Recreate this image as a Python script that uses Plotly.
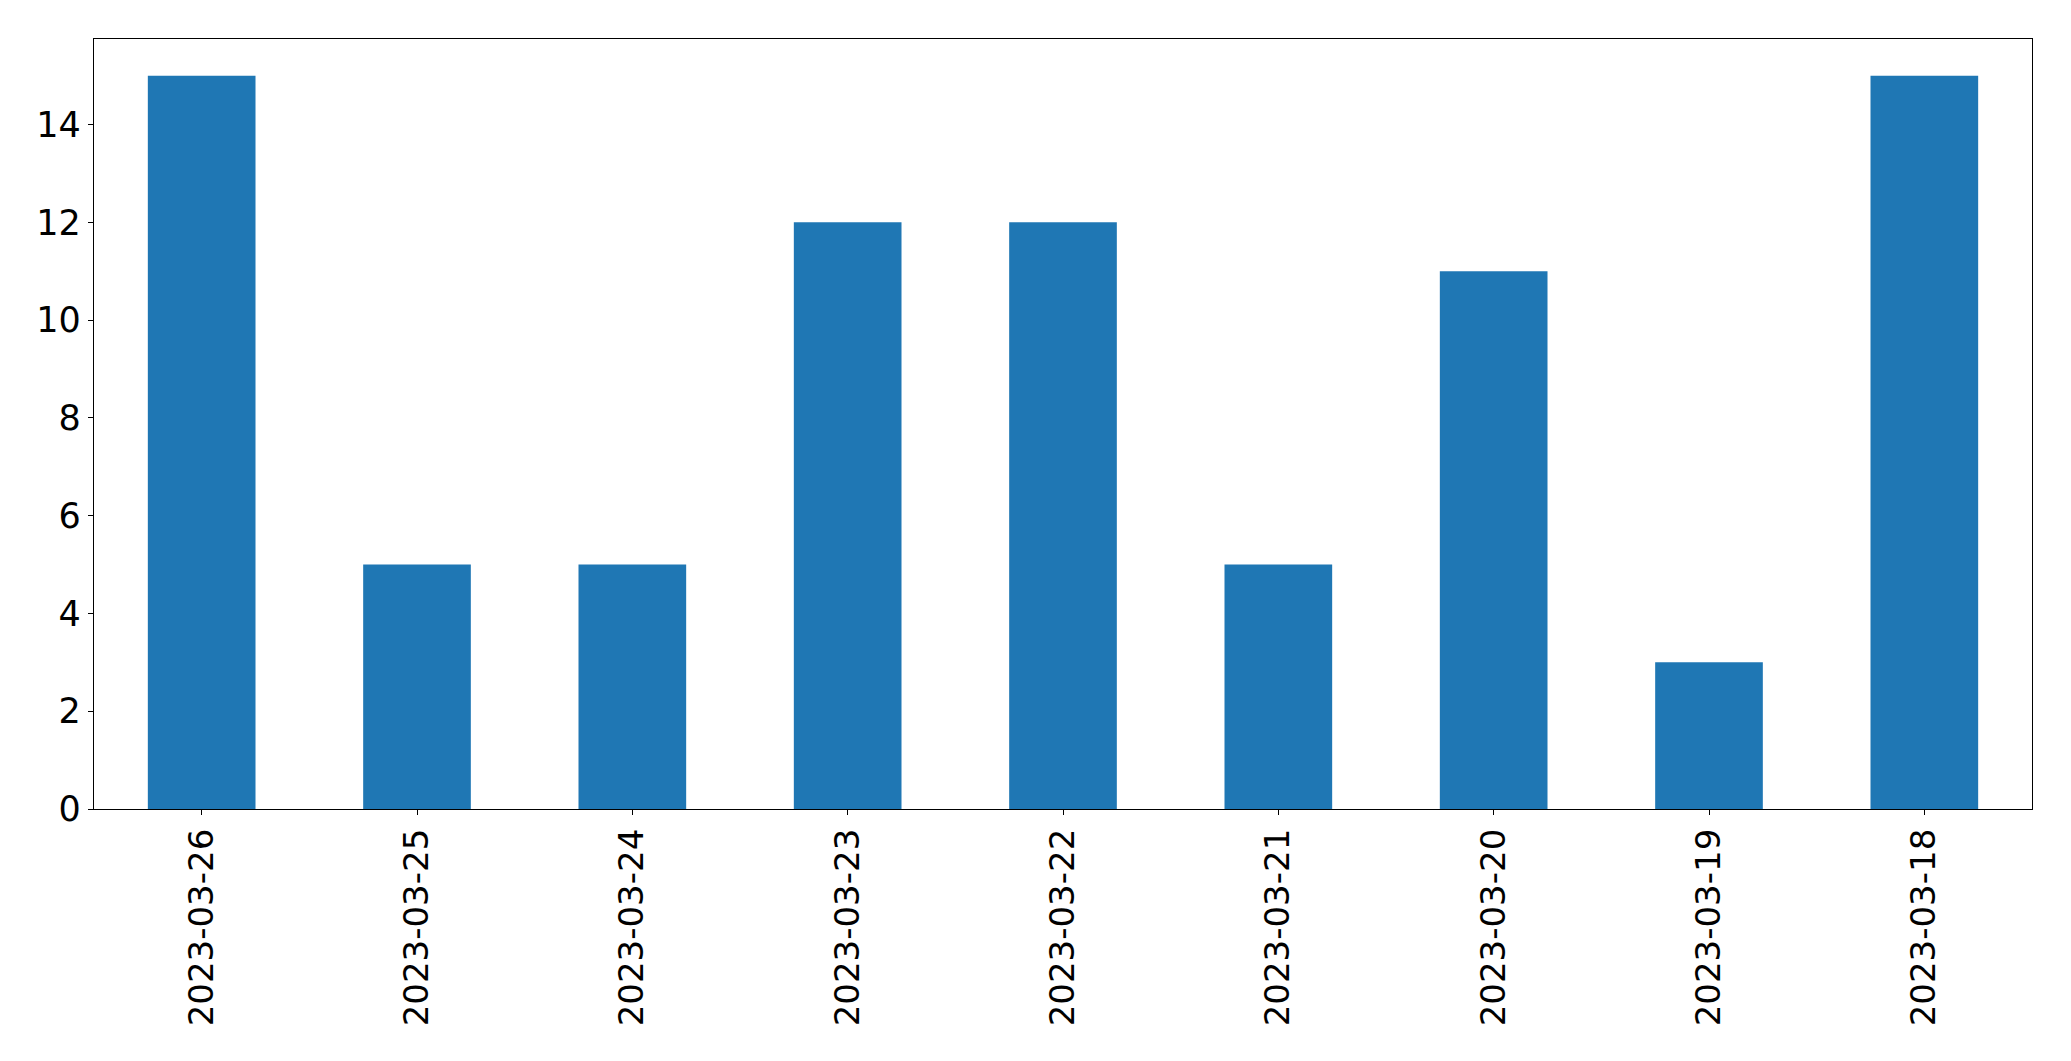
import plotly.graph_objects as go

dates = ["2023-03-26", "2023-03-25", "2023-03-24", "2023-03-23", "2023-03-22",
         "2023-03-21", "2023-03-20", "2023-03-19", "2023-03-18"]
counts = [15, 5, 5, 12, 12, 5, 11, 3, 15]
y_ticks = [0, 2, 4, 6, 8, 10, 12, 14]

fig = go.Figure(go.Bar(x=dates, y=counts, width=0.5, marker=dict(color="#1f77b4", line=dict(width=0))))

fig.update_layout(
    width=2071, height=1061,
    margin=dict(l=94, r=39, t=39, b=252, autoexpand=False),
    plot_bgcolor="white", paper_bgcolor="white",
    font=dict(family="DejaVu Sans", size=35, color="black"),
    showlegend=False,
)
fig.update_xaxes(
    type="category", range=[-0.5, len(dates) - 0.5],
    showline=True, mirror=True, linecolor="black", linewidth=1.3,
    ticks="outside", ticklen=5, tickwidth=1.3, tickcolor="black",
    tickangle=-90, tickfont=dict(size=34), showgrid=False, zeroline=False,
)
fig.update_yaxes(
    range=[0, 15.75], tickvals=y_ticks,
    showline=True, mirror=True, linecolor="black", linewidth=1.3,
    ticks="outside", ticklen=5, tickwidth=1.3, tickcolor="black",
    showgrid=False, zeroline=False,
)
fig.write_html("out.html", config={"displayModeBar": False},
               post_script="document.body.style.margin='0px';document.body.style.overflow='hidden';")
